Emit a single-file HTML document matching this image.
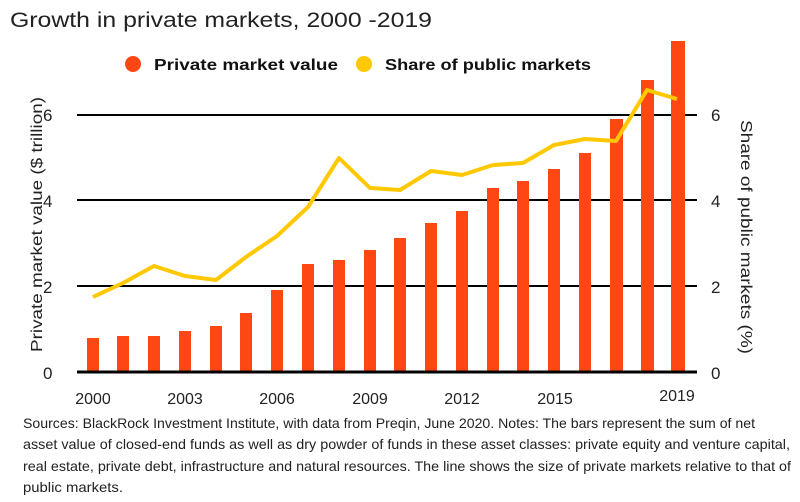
<!DOCTYPE html>
<html><head><meta charset="utf-8"><style>
html,body{margin:0;padding:0;background:#fff;}
svg{display:block;font-family:"Liberation Sans",sans-serif;}
</style></head><body>
<svg width="800" height="502" viewBox="0 0 800 502" xmlns="http://www.w3.org/2000/svg">
<text x="10" y="27" font-size="21" fill="#222" textLength="422" lengthAdjust="spacingAndGlyphs">Growth in private markets, 2000 -2019</text>
<circle cx="133" cy="64" r="8" fill="#ff4713"/>
<text x="154" y="70" font-size="16" font-weight="bold" fill="#111" textLength="184" lengthAdjust="spacingAndGlyphs">Private market value</text>
<circle cx="364" cy="64" r="8" fill="#ffc800"/>
<text x="385" y="70" font-size="16" font-weight="bold" fill="#111" textLength="206" lengthAdjust="spacingAndGlyphs">Share of public markets</text>
<g stroke="#000" stroke-width="2">
<line x1="77" y1="115" x2="697" y2="115"/>
<line x1="77" y1="200" x2="697" y2="200"/>
<line x1="77" y1="286" x2="697" y2="286"/>
</g>
<g fill="#ff4713">
<rect x="87" y="338" width="12" height="34"/>
<rect x="117" y="336" width="12" height="36"/>
<rect x="148" y="336" width="12" height="36"/>
<rect x="179" y="331" width="12" height="41"/>
<rect x="210" y="326" width="12" height="46"/>
<rect x="240" y="313" width="12" height="59"/>
<rect x="271" y="290" width="12" height="82"/>
<rect x="302" y="264" width="12" height="108"/>
<rect x="333" y="260" width="12" height="112"/>
<rect x="364" y="250" width="12" height="122"/>
<rect x="394" y="238" width="12" height="134"/>
<rect x="425" y="223" width="12" height="149"/>
<rect x="456" y="211" width="12" height="161"/>
<rect x="487" y="188" width="12" height="184"/>
<rect x="517" y="181" width="12" height="191"/>
<rect x="548" y="169" width="12" height="203"/>
<rect x="579" y="153" width="12" height="219"/>
<rect x="610" y="119" width="13" height="253"/>
<rect x="641" y="80" width="13" height="292"/>
<rect x="671" y="41" width="14" height="331"/>
</g>
<line x1="77" y1="372" x2="697" y2="372" stroke="#000" stroke-width="3"/>
<polyline fill="none" stroke="#ffc800" stroke-width="4" stroke-linejoin="round" points="93,297 123,283 154,266 185,276 216,280 246,257 277,236 308,207 339,158 370,188 400,190 431,171 462,175 493,165 523,163 554,145 585,139 616,141 647,90 677,99"/>
<g font-size="17" fill="#222">
<text x="43" y="121">6</text><text x="43" y="207">4</text><text x="43" y="293">2</text><text x="43" y="379">0</text>
<text x="711" y="121">6</text><text x="711" y="207">4</text><text x="711" y="293">2</text><text x="711" y="379">0</text>
</g>
<g font-size="16" fill="#222" text-anchor="middle">
<text x="93" y="404">2000</text><text x="185" y="404">2003</text><text x="277" y="404">2006</text><text x="370" y="404">2009</text><text x="462" y="404">2012</text><text x="555" y="404">2015</text><text x="677" y="401">2019</text>
</g>
<text transform="translate(42,352) rotate(-90)" font-size="16" fill="#222" textLength="255" lengthAdjust="spacingAndGlyphs">Private market value ($ trillion)</text>
<text transform="translate(741,120) rotate(90)" font-size="16" fill="#222" textLength="234" lengthAdjust="spacingAndGlyphs">Share of public markets (%)</text>
<g font-size="14" fill="#222">
<text x="23" y="428" textLength="732" lengthAdjust="spacingAndGlyphs">Sources: BlackRock Investment Institute, with data from Preqin, June 2020. Notes: The bars represent the sum of net</text>
<text x="23" y="449" textLength="767" lengthAdjust="spacingAndGlyphs">asset value of closed-end funds as well as dry powder of funds in these asset classes: private equity and venture capital,</text>
<text x="23" y="471" textLength="768" lengthAdjust="spacingAndGlyphs">real estate, private debt, infrastructure and natural resources. The line shows the size of private markets relative to that  of</text>
<text x="23" y="492" textLength="100" lengthAdjust="spacingAndGlyphs">public markets.</text>
</g>
</svg>
</body></html>
